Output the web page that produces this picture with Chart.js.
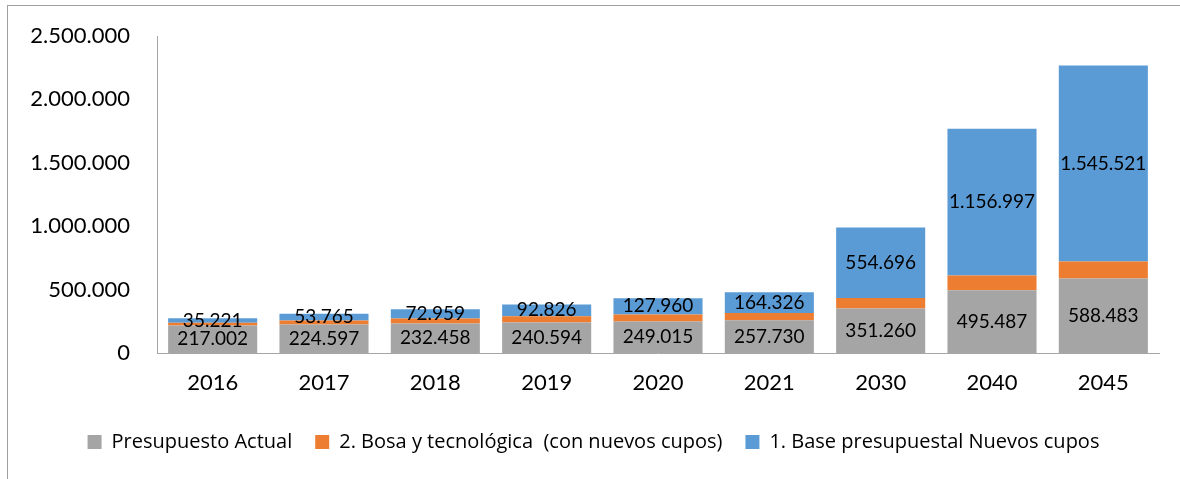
<!DOCTYPE html>
<html lang="es">
<head>
    <meta charset="UTF-8">
    <title>Presupuesto por año</title>
    <script src="https://cdn.jsdelivr.net/npm/chart.js"></script>
    <style>
        html, body {
            margin: 0;
            padding: 0;
            background: #ffffff;
            overflow: hidden;
        }
        #wrap {
            position: relative;
            width: 1180px;
            height: 479px;
        }
        #frame {
            position: absolute;
            left: 7px;
            top: 5px;
            width: 1300px;
            height: 600px;
            border: 1px solid #a0a0a0;
        }
        canvas {
            position: absolute;
            left: 0;
            top: 0;
        }
    </style>
</head>
<body>
    <div id="wrap">
        <div id="frame"></div>
        <canvas id="myChart" width="1180" height="479"></canvas>
    </div>

    <script>
        const anios = ['2016', '2017', '2018', '2019', '2020', '2021', '2030', '2040', '2045'];
        const presupuestoActual = [217002, 224597, 232458, 240594, 249015, 257730, 351260, 495487, 588483];
        const bosaTecnologica = [22000, 32000, 40000, 50000, 55000, 58000, 83000, 116000, 134000];
        const baseNuevosCupos = [35221, 53765, 72959, 92826, 127960, 164326, 554696, 1156997, 1545521];
        const ticksY = [0, 500000, 1000000, 1500000, 2000000, 2500000];

        const FONT = "Lato, 'Open Sans', sans-serif";

        function miles(v) {
            return Math.round(v).toString().replace(/\B(?=(\d{3})+(?!\d))/g, '.');
        }

        // etiquetas centradas dentro de las barras (gris y azul)
        const etiquetas = {
            id: 'etiquetas',
            afterDatasetsDraw(chart) {
                const ctx = chart.ctx;
                ctx.save();
                ctx.font = '19px ' + FONT;
                ctx.fillStyle = '#000000';
                ctx.textAlign = 'center';
                ctx.textBaseline = 'middle';
                [0, 2].forEach(i => {
                    const meta = chart.getDatasetMeta(i);
                    meta.data.forEach((bar, j) => {
                        const p = bar.getProps(['x', 'y', 'base'], true);
                        ctx.fillText(miles(chart.data.datasets[i].data[j]), p.x, (p.y + p.base) / 2);
                    });
                });
                ctx.restore();
            }
        };

        const ctx = document.getElementById('myChart').getContext('2d');
        const myChart = new Chart(ctx, {
            type: 'bar',
            data: {
                labels: anios,
                datasets: [
                    {
                        label: 'Presupuesto Actual',
                        data: presupuestoActual,
                        backgroundColor: '#a5a5a5'
                    },
                    {
                        label: '2. Bosa y tecnológica  (con nuevos cupos)',
                        data: bosaTecnologica,
                        backgroundColor: '#ed7d31'
                    },
                    {
                        label: '1. Base presupuestal Nuevos cupos',
                        data: baseNuevosCupos,
                        backgroundColor: '#5b9bd5'
                    }
                ]
            },
            options: {
                responsive: false,
                animation: false,
                events: [],
                layout: {
                    padding: { left: 28, right: 21, top: 36, bottom: 17 }
                },
                datasets: {
                    bar: {
                        categoryPercentage: 1.0,
                        barPercentage: 0.8
                    }
                },
                scales: {
                    x: {
                        stacked: true,
                        grid: { display: false, drawTicks: false },
                        border: { display: true, color: '#a6a6a6', width: 1 },
                        ticks: {
                            color: '#000000',
                            font: { family: FONT, size: 22 },
                            padding: 17
                        },
                        afterFit(scale) {
                            scale.height = 56;
                        }
                    },
                    y: {
                        stacked: true,
                        min: 0,
                        max: 2500000,
                        afterBuildTicks(scale) {
                            scale.ticks = ticksY.map(v => ({ value: v }));
                        },
                        // sin marcas visibles; tickLength solo separa las etiquetas del eje
                        grid: { display: false, drawTicks: true, tickLength: 22 },
                        border: { display: true, color: '#a6a6a6', width: 1 },
                        ticks: {
                            color: '#000000',
                            font: { family: FONT, size: 22 },
                            padding: 5,
                            callback: v => miles(v)
                        },
                        afterFit(scale) {
                            scale.width = 129;
                        }
                    }
                },
                plugins: {
                    legend: {
                        position: 'bottom',
                        labels: {
                            color: '#000000',
                            font: { family: "'Open Sans', Lato, sans-serif", size: 20 },
                            boxWidth: 14,
                            boxHeight: 14,
                            padding: 23
                        }
                    },
                    tooltip: { enabled: false }
                }
            },
            plugins: [etiquetas]
        });
    </script>
</body>
</html>
